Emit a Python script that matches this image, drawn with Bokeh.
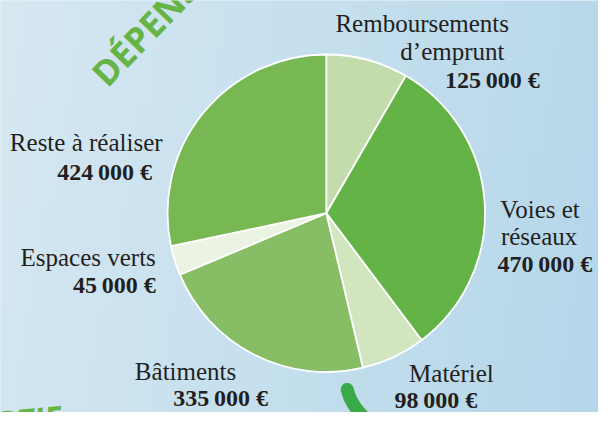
import numpy as np
from bokeh.plotting import figure
from bokeh.models import Range1d, ColumnDataSource, Label
from bokeh.core.properties import value
from bokeh.embed import file_html
from bokeh.resources import INLINE

# ---- data ----
categories = ["Remboursements d’emprunt", "Voies et réseaux", "Matériel",
              "Bâtiments", "Espaces verts", "Reste à réaliser"]
amounts = [125000, 470000, 98000, 335000, 45000, 424000]
colors = ["#c3dcab", "#63b346", "#d1e5be", "#87bd65", "#ebf3e2", "#77b853"]
label_lines = [["Remboursements", "d’emprunt"], ["Voies et", "réseaux"], ["Matériel"],
               ["Bâtiments"], ["Espaces verts"], ["Reste à réaliser"]]

# ---- layout (reference pixel coordinates, 614 x 428 design) ----
W, H = 598, 412
DW, DH = 614, 428
TDY = 8  # text baseline correction
def Y(py):
    return DH - py

cx, cy, R = 334.5, 221, 163
name_pos = [[(433, 32), (464, 61)], [(554, 225), (553, 253)], [(463, 395)],
            [(190, 393)], [(90, 275)], [(88, 156)]]
value_pos = [(505, 91), (559, 282), (447, 423), (226, 421), (117, 304), (107, 186)]

p = figure(width=W, height=H, x_range=Range1d(0, DW), y_range=Range1d(0, DH),
           output_backend="svg", toolbar_location=None, min_border=0,
           outline_line_color=None, background_fill_color="#c8e0ed",
           border_fill_color="#c8e0ed")
p.axis.visible = False
p.grid.visible = False

# background gradient
nx, ny = 120, 8
c_left = np.array([214, 232, 242])
c_right = np.array([181, 215, 234])
img = np.zeros((ny, nx), dtype=np.uint32)
view = img.view(dtype=np.uint8).reshape((ny, nx, 4))
for j in range(ny):
    for i in range(nx):
        t = min(1.0, max(0.0, i / (nx - 1) * 0.9 + (ny - 1 - j) / (ny - 1) * 0.1))
        c = c_left * (1 - t) + c_right * t
        view[j, i, 0:3] = c.astype(np.uint8)
        view[j, i, 3] = 255
p.image_rgba(image=[img], x=0, y=0, dw=DW, dh=DH)

# pie
total = float(sum(amounts))
cum = np.cumsum([0] + amounts)
starts = [np.pi / 2 - 2 * np.pi * cum[i] / total for i in range(len(amounts))]
ends = [np.pi / 2 - 2 * np.pi * cum[i + 1] / total for i in range(len(amounts))]
src = ColumnDataSource(dict(start=starts, end=ends, color=colors, cat=categories))
p.wedge(x=cx, y=Y(cy), radius=R, start_angle="start", end_angle="end",
        direction="clock", fill_color="color", line_color="white", line_width=1.8,
        source=src)

# labels
tx, ty, tt = [], [], []
for lines, pos in zip(label_lines, name_pos):
    for line, (x, y) in zip(lines, pos):
        tx.append(x); ty.append(Y(y - TDY)); tt.append(line)
p.text(x=tx, y=ty, text=tt, text_font=value("Liberation Serif"), text_font_size="25px",
       text_color="#231f20", text_align="center", text_baseline="alphabetic")

vx, vy, vt = [], [], []
for a, (x, y) in zip(amounts, value_pos):
    vx.append(x); vy.append(Y(y - TDY))
    vt.append(f"{a:,}".replace(",", "\u2009") + "\u00a0€")
p.text(x=vx, y=vy, text=vt, text_font=value("Liberation Serif"), text_font_size="24px",
       text_font_style="bold", text_color="#231f20", text_align="center",
       text_baseline="alphabetic")

# decorations
p.add_layout(Label(x=100, y=Y(82), text="DÉPENSES", angle=46, angle_units="deg",
                   text_font="Open Sans", text_font_size="35px", text_font_style="bold",
                   text_color="#66b446", text_align="left", text_baseline="alphabetic"))
p.add_layout(Label(x=62, y=Y(432), text="PARTIE", angle=5, angle_units="deg",
                   text_font="Open Sans", text_font_size="32px", text_font_style="bold italic",
                   text_color="#66b446", text_align="right", text_baseline="alphabetic"))
p.bezier(x0=[356], y0=[Y(404)], x1=[378], y1=[Y(438)], cx0=[359], cy0=[Y(418)],
         cx1=[368], cy1=[Y(428)], line_color="#3aa94a", line_width=13, line_cap="round")

open("out.html", "w").write(file_html(p, INLINE))
